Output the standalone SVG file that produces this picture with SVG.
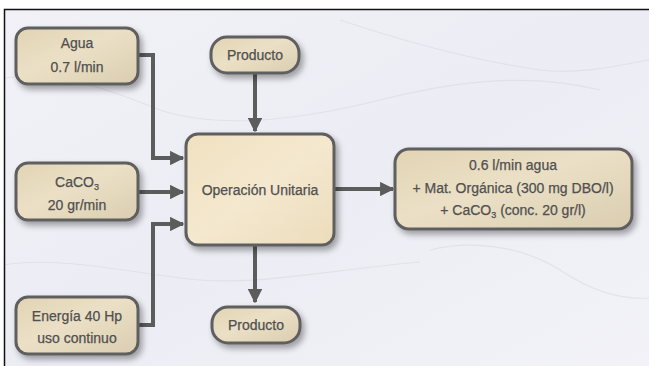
<svg xmlns="http://www.w3.org/2000/svg" width="649" height="366" viewBox="0 0 649 366">
<defs>
<linearGradient id="bg" x1="0" y1="0" x2="1" y2="1">
<stop offset="0" stop-color="#f1f1f7"/>
<stop offset="0.5" stop-color="#ececf4"/>
<stop offset="1" stop-color="#f2f2f8"/>
</linearGradient>
<linearGradient id="stone" x1="0" y1="0" x2="1" y2="1">
<stop offset="0" stop-color="#e2d4b4"/>
<stop offset="0.45" stop-color="#ebe0c6"/>
<stop offset="1" stop-color="#dacdb0"/>
</linearGradient>
<linearGradient id="stoneLight" x1="0" y1="0" x2="1" y2="1">
<stop offset="0" stop-color="#f0e1bf"/>
<stop offset="0.5" stop-color="#f4e8cf"/>
<stop offset="1" stop-color="#ecdcbb"/>
</linearGradient>
<filter id="shadow" x="-20%" y="-20%" width="150%" height="160%">
<feGaussianBlur in="SourceAlpha" stdDeviation="3"/>
<feOffset dx="3" dy="4" result="b"/>
<feComponentTransfer><feFuncA type="linear" slope="0.35"/></feComponentTransfer>
<feMerge><feMergeNode/><feMergeNode in="SourceGraphic"/></feMerge>
</filter>
<marker id="arrow" viewBox="0 0 10 10" refX="9" refY="5" markerWidth="3.6" markerHeight="3.6" orient="auto" markerUnits="strokeWidth">
<path d="M0,0 L10,5 L0,10 Z" fill="#5c5c5c"/>
</marker>
<style>
.box{fill:url(#stone);stroke:#5e5e5e;stroke-width:3;filter:url(#shadow)}
.boxL{fill:url(#stoneLight);stroke:#5e5e5e;stroke-width:3;filter:url(#shadow)}
.t{font-family:"Liberation Sans",Arial,sans-serif;font-size:14px;fill:#505050;text-anchor:middle;stroke:#505050;stroke-width:0.25}
.c{fill:none;stroke:#5c5c5c;stroke-width:4;marker-end:url(#arrow)}
.vein{fill:none;stroke:#d8d8e0;stroke-width:1.2;opacity:0.6}
</style>
</defs>
<rect x="0" y="0" width="649" height="366" fill="#ffffff"/>
<rect x="4" y="9" width="645" height="357" fill="url(#bg)"/>
<g id="background-veins">
<path class="vein" d="M4,78 C60,70 110,90 160,110 C220,130 300,120 380,100 C440,85 520,70 600,90"/>
<path class="vein" d="M340,20 C400,40 470,60 540,70 C580,75 620,65 649,60"/>
<path class="vein" d="M4,265 C60,255 140,275 200,280 C260,285 330,270 420,262"/>
<path class="vein" d="M430,250 C470,240 520,245 560,270 C590,290 620,300 649,298"/>
</g>
<path d="M4.5,366 V9.5 H649" fill="none" stroke="#111" stroke-width="1.5"/>
<g id="connectors">
<path class="c" d="M138,55 H153 V158 H183"/>
<path class="c" d="M138,192 H183"/>
<path class="c" d="M138,325 H153 V224 H183"/>
<path class="c" d="M255,73 V131"/>
<path class="c" d="M255,245 V302"/>
<path class="c" d="M334,189 H393"/>
</g>
<g id="agua">
<rect class="box" x="16" y="28" width="122" height="56" rx="12"/>
<text class="t" x="77" y="48">Agua</text>
<text class="t" x="77" y="72">0.7 l/min</text>
</g>
<g id="caco3">
<rect class="box" x="16" y="163" width="122" height="57" rx="12"/>
<text class="t" x="77" y="187">CaCO<tspan font-size="9" dy="3">3</tspan></text>
<text class="t" x="77" y="210">20 gr/min</text>
</g>
<g id="energia">
<rect class="box" x="16" y="297" width="122" height="57" rx="12"/>
<text class="t" x="77" y="321">Energía 40 Hp</text>
<text class="t" x="77" y="343">uso continuo</text>
</g>
<g id="producto-top">
<rect class="box" x="211" y="37" width="88" height="36" rx="16"/>
<text class="t" x="255" y="60">Producto</text>
</g>
<g id="operacion">
<rect class="boxL" x="186" y="134" width="148" height="111" rx="12"/>
<text class="t" x="260" y="195">Operación Unitaria</text>
</g>
<g id="producto-bottom">
<rect class="box" x="212" y="307" width="88" height="36" rx="16"/>
<text class="t" x="256" y="330">Producto</text>
</g>
<g id="salida">
<rect class="box" x="395" y="149" width="237" height="80" rx="14"/>
<text class="t" x="513" y="170">0.6 l/min agua</text>
<text class="t" x="513" y="193">+ Mat. Orgánica (300 mg DBO/l)</text>
<text class="t" x="513" y="215">+ CaCO<tspan font-size="9" dy="3">3</tspan><tspan dy="-3"> (conc. 20 gr/l)</tspan></text>
</g>
</svg>
